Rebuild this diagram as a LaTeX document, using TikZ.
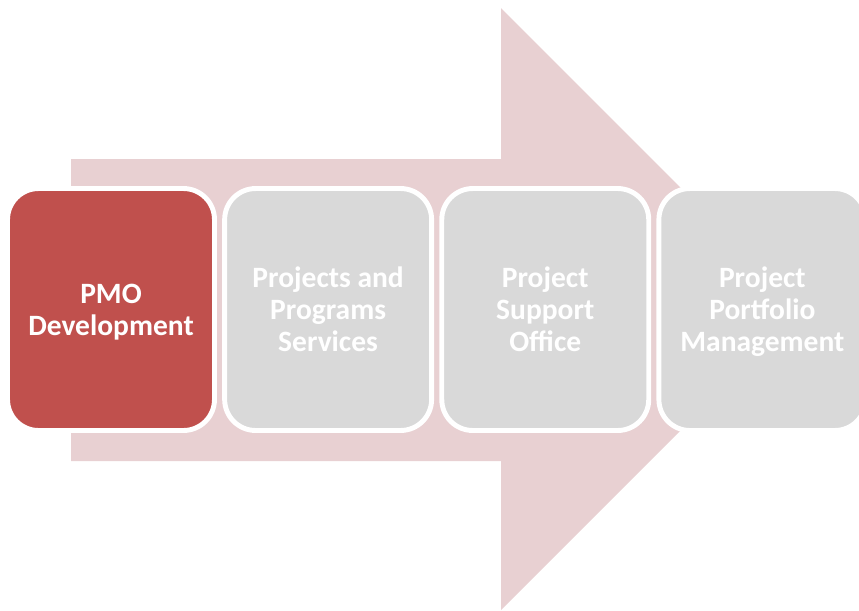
\documentclass[tikz,border=0pt]{standalone}
\usepackage{fontspec}
\setmainfont{Carlito}
\usetikzlibrary{positioning}
\definecolor{pmored}{HTML}{C0504D}
\definecolor{arrowpink}{HTML}{E8D0D2}
\definecolor{stagegray}{HTML}{D9D9D9}
\newcommand{\stagetop}{\vrule width 0pt height 16.8pt}
\tikzset{
    stage/.style={draw=white, line width=2.8pt, fill=stagegray, rounded corners=0.62cm,
        minimum width=4.14cm, minimum height=4.84cm, align=center, text=white,
        font=\bfseries\fontsize{16.8pt}{18.2pt}\selectfont},
    current/.style={fill=pmored},
    bigarrow/.style={fill=arrowpink, draw=none}
}
\begin{document}
\begin{tikzpicture}[x=0.02cm, y=-0.02cm, node distance=0.105cm]
\useasboundingbox (0,0) rectangle (859,610);
\clip (0,0) rectangle (859,610);
\fill[bigarrow] (71,159) -- (501,159) -- (501,8) -- (802,309) -- (501,610) -- (501,461) -- (71,461) -- cycle;
\node[stage, current] (pmo) at (111,309.5) {\stagetop PMO\\Development\strut};
\node[stage, right=of pmo] (pps) {\stagetop Projects and\\Programs\\Services\strut};
\node[stage, right=of pps] (pso) {\stagetop Project\\Support\\Office\strut};
\node[stage, right=of pso] (ppm) {\stagetop Project\\Portfolio\\Management\strut};
\end{tikzpicture}
\end{document}
